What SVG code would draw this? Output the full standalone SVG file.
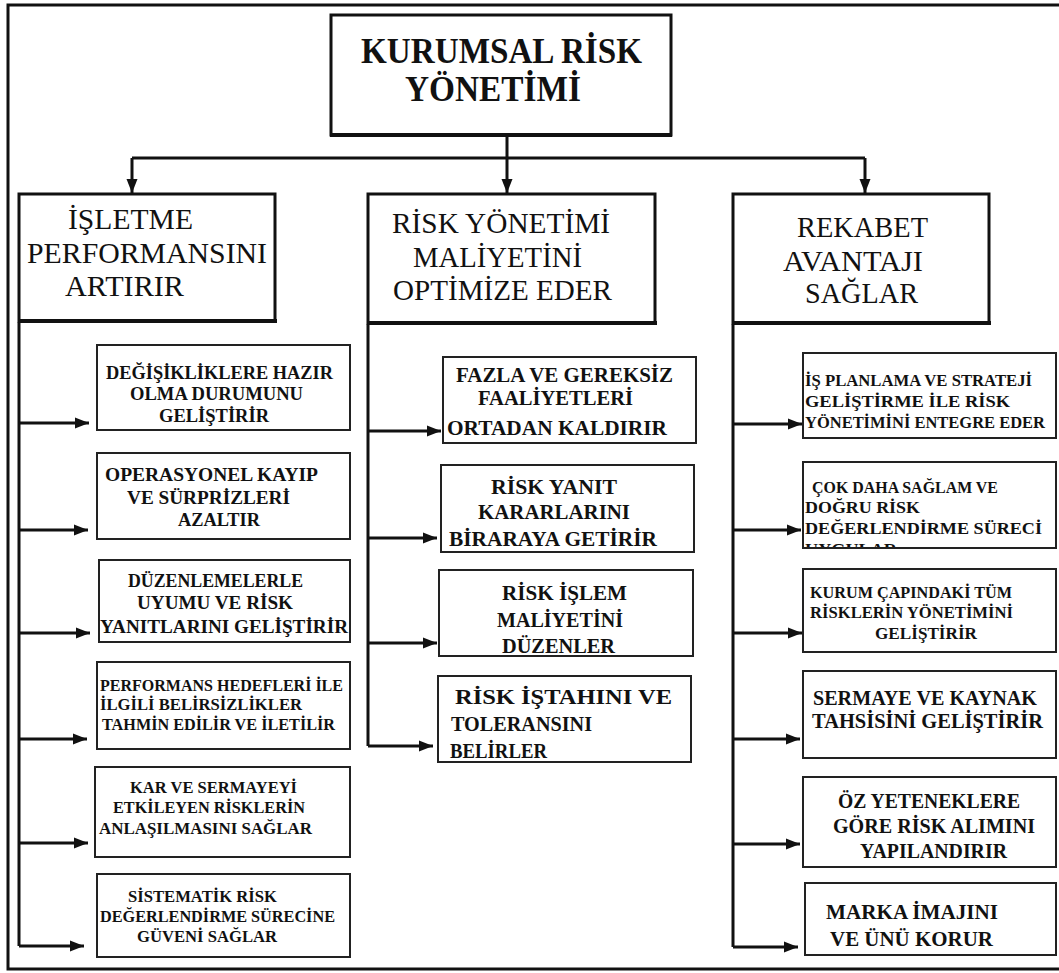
<svg xmlns="http://www.w3.org/2000/svg" width="1059" height="973" viewBox="0 0 1059 973" font-family="'Liberation Serif', 'DejaVu Serif', serif">
  <style>
    .frame { fill: none; stroke: #111; stroke-width: 3; }
    .box { fill: #fff; stroke: #222; stroke-width: 2; }
    .hdr { fill: #fff; stroke: #111; stroke-width: 3; }
    .base { fill: none; stroke: #111; stroke-width: 4; }
    .wire { fill: none; stroke: #111; stroke-width: 3; }
    .arrow { fill: none; stroke: #111; stroke-width: 3; marker-end: url(#head); }
    text { fill: #111; font-family: "Liberation Serif", "DejaVu Serif", serif; }
    .t-title { font-size: 35px; font-weight: bold; }
    .t-hdr { font-size: 29px; }
    .t-sm { font-size: 19px; font-weight: bold; }
    .t-xs { font-size: 17px; font-weight: bold; }
    .t-md { font-size: 22px; font-weight: bold; }
    .t-mdt { font-size: 20px; font-weight: bold; }
  </style>
  <defs>
    <marker id="head" markerUnits="userSpaceOnUse" markerWidth="15" markerHeight="12" refX="14" refY="6" orient="auto">
      <path d="M0,0.5 L14,6 L0,11.5 z" fill="#111"/>
    </marker>
    <clipPath id="clip-r2"><rect x="804" y="463" width="251" height="84"/></clipPath>
  </defs>

  <rect width="1059" height="973" fill="#fff"/>

  <!-- outer frame (open on the right) -->
  <path class="frame" d="M1059,5 H8 V969 H1059"/>

  <!-- connectors -->
  <g id="connectors">
    <path class="wire" d="M507,136 V158 M132,158 H865"/>
    <path class="arrow" d="M132,158 V193"/>
    <path class="arrow" d="M507,158 V193"/>
    <path class="arrow" d="M865,158 V193"/>

    <path class="wire" d="M19,322 V946"/>
    <path class="arrow" d="M19,423 H89"/>
    <path class="arrow" d="M19,530 H88"/>
    <path class="arrow" d="M19,633 H90"/>
    <path class="arrow" d="M19,739 H87"/>
    <path class="arrow" d="M19,843 H88"/>
    <path class="arrow" d="M19,946 H84"/>

    <path class="wire" d="M368,324 V746"/>
    <path class="arrow" d="M368,431 H441"/>
    <path class="arrow" d="M368,538 H437"/>
    <path class="arrow" d="M368,643 H437"/>
    <path class="arrow" d="M368,746 H433"/>

    <path class="wire" d="M733,324 V947"/>
    <path class="arrow" d="M733,424 H802"/>
    <path class="arrow" d="M733,530 H801"/>
    <path class="arrow" d="M733,633 H802"/>
    <path class="arrow" d="M733,739 H800"/>
    <path class="arrow" d="M733,844 H800"/>
    <path class="arrow" d="M733,947 H798"/>
  </g>

  <!-- root -->
  <g id="root">
    <rect class="hdr" x="331" y="15" width="340" height="120"/>
    <path class="base" d="M330,135 H672"/>
    <text class="t-title" x="361" y="63" textLength="281" lengthAdjust="spacingAndGlyphs">KURUMSAL RİSK</text>
    <text class="t-title" x="405" y="101" textLength="176" lengthAdjust="spacingAndGlyphs">YÖNETİMİ</text>
  </g>

  <!-- column headers -->
  <g id="hdr-performans">
    <rect class="hdr" x="19" y="194" width="256" height="127"/>
    <path class="base" d="M18,321 H277"/>
    <text class="t-hdr" x="68" y="229" textLength="125" lengthAdjust="spacingAndGlyphs">İŞLETME</text>
    <text class="t-hdr" x="27" y="263" textLength="240" lengthAdjust="spacingAndGlyphs">PERFORMANSINI</text>
    <text class="t-hdr" x="65" y="296" textLength="119" lengthAdjust="spacingAndGlyphs">ARTIRIR</text>
  </g>
  <g id="hdr-maliyet">
    <rect class="hdr" x="368" y="194" width="287" height="129"/>
    <path class="base" d="M367,323 H657"/>
    <text class="t-hdr" x="392" y="233" textLength="218" lengthAdjust="spacingAndGlyphs">RİSK YÖNETİMİ</text>
    <text class="t-hdr" x="413" y="267" textLength="169" lengthAdjust="spacingAndGlyphs">MALİYETİNİ</text>
    <text class="t-hdr" x="393" y="300" textLength="219" lengthAdjust="spacingAndGlyphs">OPTİMİZE EDER</text>
  </g>
  <g id="hdr-rekabet">
    <rect class="hdr" x="733" y="194" width="256" height="129"/>
    <path class="base" d="M732,323 H991"/>
    <text class="t-hdr" x="797" y="237" textLength="131" lengthAdjust="spacingAndGlyphs">REKABET</text>
    <text class="t-hdr" x="783" y="271" textLength="140" lengthAdjust="spacingAndGlyphs">AVANTAJI</text>
    <text class="t-hdr" x="805" y="303" textLength="113" lengthAdjust="spacingAndGlyphs">SAĞLAR</text>
  </g>

  <!-- left column -->
  <g id="l1">
    <rect class="box" x="97" y="345" width="253" height="85"/>
    <text class="t-sm" x="106" y="379" textLength="227" lengthAdjust="spacingAndGlyphs">DEĞİŞİKLİKLERE HAZIR</text>
    <text class="t-sm" x="130" y="400" textLength="173" lengthAdjust="spacingAndGlyphs">OLMA DURUMUNU</text>
    <text class="t-sm" x="159" y="422" textLength="110" lengthAdjust="spacingAndGlyphs">GELİŞTİRİR</text>
  </g>
  <g id="l2">
    <rect class="box" x="97" y="453" width="253" height="86"/>
    <text class="t-sm" x="105" y="481" textLength="213" lengthAdjust="spacingAndGlyphs">OPERASYONEL KAYIP</text>
    <text class="t-sm" x="127" y="504" textLength="163" lengthAdjust="spacingAndGlyphs">VE SÜRPRİZLERİ</text>
    <text class="t-sm" x="178" y="526" textLength="82" lengthAdjust="spacingAndGlyphs">AZALTIR</text>
  </g>
  <g id="l3">
    <rect class="box" x="99" y="560" width="251" height="82"/>
    <text class="t-sm" x="128" y="587" textLength="175" lengthAdjust="spacingAndGlyphs">DÜZENLEMELERLE</text>
    <text class="t-sm" x="137" y="609" textLength="156" lengthAdjust="spacingAndGlyphs">UYUMU VE RİSK</text>
    <text class="t-sm" x="100" y="633" textLength="248" lengthAdjust="spacingAndGlyphs">YANITLARINI GELİŞTİRİR</text>
  </g>
  <g id="l4">
    <rect class="box" x="97" y="662" width="253" height="87"/>
    <text class="t-xs" x="100" y="691" textLength="243" lengthAdjust="spacingAndGlyphs">PERFORMANS HEDEFLERİ İLE</text>
    <text class="t-xs" x="100" y="710" textLength="202" lengthAdjust="spacingAndGlyphs">İLGİLİ BELİRSİZLİKLER</text>
    <text class="t-xs" x="102" y="730" textLength="233" lengthAdjust="spacingAndGlyphs">TAHMİN EDİLİR VE İLETİLİR</text>
  </g>
  <g id="l5">
    <rect class="box" x="95" y="767" width="255" height="90"/>
    <text class="t-xs" x="130" y="793" textLength="167" lengthAdjust="spacingAndGlyphs">KAR VE SERMAYEYİ</text>
    <text class="t-xs" x="113" y="813" textLength="192" lengthAdjust="spacingAndGlyphs">ETKİLEYEN RİSKLERİN</text>
    <text class="t-xs" x="99" y="834" textLength="213" lengthAdjust="spacingAndGlyphs">ANLAŞILMASINI  SAĞLAR</text>
  </g>
  <g id="l6">
    <rect class="box" x="97" y="874" width="253" height="83"/>
    <text class="t-xs" x="128" y="902" textLength="149" lengthAdjust="spacingAndGlyphs">SİSTEMATİK RİSK</text>
    <text class="t-xs" x="100" y="922" textLength="235" lengthAdjust="spacingAndGlyphs">DEĞERLENDİRME SÜRECİNE</text>
    <text class="t-xs" x="137" y="942" textLength="140" lengthAdjust="spacingAndGlyphs">GÜVENİ SAĞLAR</text>
  </g>

  <!-- middle column -->
  <g id="m1">
    <rect class="box" x="443" y="357" width="253" height="86"/>
    <text class="t-mdt" x="456" y="382" textLength="217" lengthAdjust="spacingAndGlyphs">FAZLA VE GEREKSİZ</text>
    <text class="t-mdt" x="478" y="405" textLength="155" lengthAdjust="spacingAndGlyphs">FAALİYETLERİ</text>
    <text class="t-md" x="447" y="435" textLength="220" lengthAdjust="spacingAndGlyphs">ORTADAN KALDIRIR</text>
  </g>
  <g id="m2">
    <rect class="box" x="441" y="465" width="253" height="87"/>
    <text class="t-md" x="491" y="494" textLength="126" lengthAdjust="spacingAndGlyphs">RİSK YANIT</text>
    <text class="t-md" x="478" y="519" textLength="152" lengthAdjust="spacingAndGlyphs">KARARLARINI</text>
    <text class="t-md" x="449" y="546" textLength="208" lengthAdjust="spacingAndGlyphs">BİRARAYA GETİRİR</text>
  </g>
  <g id="m3">
    <rect class="box" x="439" y="570" width="254" height="86"/>
    <text class="t-md" x="502" y="600" textLength="125" lengthAdjust="spacingAndGlyphs">RİSK İŞLEM</text>
    <text class="t-md" x="497" y="627" textLength="126" lengthAdjust="spacingAndGlyphs">MALİYETİNİ</text>
    <text class="t-md" x="502" y="653" textLength="113" lengthAdjust="spacingAndGlyphs">DÜZENLER</text>
  </g>
  <g id="m4">
    <rect class="box" x="438" y="676" width="253" height="86"/>
    <text class="t-md" x="455" y="704" textLength="217" lengthAdjust="spacingAndGlyphs">RİSK İŞTAHINI VE</text>
    <text class="t-md" x="451" y="731" textLength="141" lengthAdjust="spacingAndGlyphs">TOLERANSINI</text>
    <text class="t-md" x="450" y="758" textLength="97" lengthAdjust="spacingAndGlyphs">BELİRLER</text>
  </g>

  <!-- right column -->
  <g id="r1">
    <rect class="box" x="803" y="353" width="253" height="85"/>
    <text class="t-xs" x="805" y="386" textLength="227" lengthAdjust="spacingAndGlyphs">İŞ PLANLAMA VE STRATEJİ</text>
    <text class="t-xs" x="805" y="407" textLength="205" lengthAdjust="spacingAndGlyphs">GELİŞTİRME İLE RİSK</text>
    <text class="t-xs" x="805" y="428" textLength="240" lengthAdjust="spacingAndGlyphs">YÖNETİMİNİ ENTEGRE EDER</text>
  </g>
  <g id="r2">
    <rect class="box" x="803" y="462" width="253" height="86"/>
    <g clip-path="url(#clip-r2)">
      <text class="t-xs" x="812" y="493" textLength="186" lengthAdjust="spacingAndGlyphs">ÇOK DAHA SAĞLAM VE</text>
      <text class="t-xs" x="805" y="513" textLength="115" lengthAdjust="spacingAndGlyphs">DOĞRU RİSK</text>
      <text class="t-xs" x="805" y="534" textLength="237" lengthAdjust="spacingAndGlyphs">DEĞERLENDİRME SÜRECİ</text>
      <text class="t-xs" x="805" y="555" textLength="92" lengthAdjust="spacingAndGlyphs">UYGULAR</text>
    </g>
  </g>
  <g id="r3">
    <rect class="box" x="803" y="569" width="253" height="83"/>
    <text class="t-xs" x="810" y="598" textLength="202" lengthAdjust="spacingAndGlyphs">KURUM ÇAPINDAKİ TÜM</text>
    <text class="t-xs" x="810" y="618" textLength="203" lengthAdjust="spacingAndGlyphs">RİSKLERİN YÖNETİMİNİ</text>
    <text class="t-xs" x="875" y="639" textLength="102" lengthAdjust="spacingAndGlyphs">GELİŞTİRİR</text>
  </g>
  <g id="r4">
    <rect class="box" x="803" y="671" width="253" height="87"/>
    <text class="t-mdt" x="813" y="705" textLength="224" lengthAdjust="spacingAndGlyphs">SERMAYE VE KAYNAK</text>
    <text class="t-mdt" x="812" y="728" textLength="231" lengthAdjust="spacingAndGlyphs">TAHSİSİNİ GELİŞTİRİR</text>
  </g>
  <g id="r5">
    <rect class="box" x="803" y="777" width="253" height="90"/>
    <text class="t-md" x="838" y="808" textLength="182" lengthAdjust="spacingAndGlyphs">ÖZ YETENEKLERE</text>
    <text class="t-md" x="833" y="833" textLength="202" lengthAdjust="spacingAndGlyphs">GÖRE RİSK ALIMINI</text>
    <text class="t-md" x="860" y="858" textLength="147" lengthAdjust="spacingAndGlyphs">YAPILANDIRIR</text>
  </g>
  <g id="r6">
    <rect class="box" x="805" y="883" width="251" height="72"/>
    <text class="t-md" x="826" y="919" textLength="172" lengthAdjust="spacingAndGlyphs">MARKA İMAJINI</text>
    <text class="t-md" x="830" y="946" textLength="163" lengthAdjust="spacingAndGlyphs">VE ÜNÜ KORUR</text>
  </g>
</svg>
